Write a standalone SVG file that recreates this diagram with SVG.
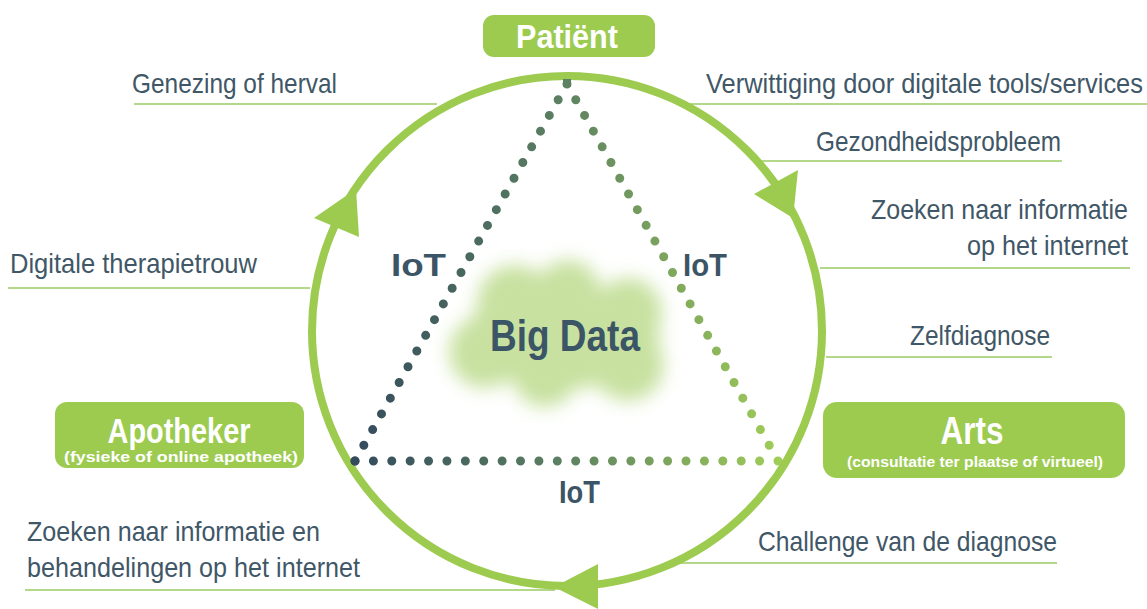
<svg xmlns="http://www.w3.org/2000/svg" width="1147" height="609" viewBox="0 0 1147 609">
<style>
.lbl{font-family:"Liberation Sans",Arial,sans-serif;font-size:28px;fill:#3f5767;}
.end{text-anchor:end;}
.ul{stroke:#b3d88a;stroke-width:2;fill:none;}
.box{fill:#9ccb50;}
.bt{font-family:"Liberation Sans",Arial,sans-serif;font-weight:bold;fill:#ffffff;text-anchor:middle;}
.iot{font-family:"Liberation Sans",Arial,sans-serif;font-weight:bold;font-size:32px;fill:#3c5566;}
.arrow{fill:#9ccb50;}
.dot{fill:none;stroke:url(#tg);stroke-width:9;stroke-linecap:round;stroke-dasharray:0 1;}
</style>
<defs>
<linearGradient id="tg" gradientUnits="userSpaceOnUse" x1="355" y1="0" x2="778" y2="0">
<stop offset="0" stop-color="#344b5c"/>
<stop offset="0.5" stop-color="#5d8262"/>
<stop offset="1" stop-color="#a0cc58"/>
</linearGradient>
<filter id="blur" x="-30%" y="-30%" width="160%" height="160%">
<feGaussianBlur stdDeviation="9"/>
</filter>
</defs>
<rect width="1147" height="609" fill="#ffffff"/>

<g id="underlines">
<line class="ul" x1="134" y1="104" x2="437" y2="104"/>
<line class="ul" x1="690" y1="104" x2="1147" y2="104"/>
<line class="ul" x1="762" y1="161" x2="1062" y2="161"/>
<line class="ul" x1="820" y1="268" x2="1130" y2="268"/>
<line class="ul" x1="826" y1="357" x2="1052" y2="357"/>
<line class="ul" x1="8" y1="288" x2="310" y2="288"/>
<line class="ul" x1="680" y1="563" x2="1057" y2="563"/>
<line class="ul" x1="25" y1="590" x2="555" y2="590"/>
</g>

<g id="cloud" filter="url(#blur)" fill="#c8e1a0">
<ellipse cx="562" cy="337" rx="98" ry="52"/>
<circle cx="515" cy="303" r="38"/>
<circle cx="568" cy="292" r="32"/>
<circle cx="628" cy="312" r="34"/>
<circle cx="485" cy="352" r="36"/>
<circle cx="545" cy="375" r="32"/>
<circle cx="628" cy="365" r="36"/>
</g>

<g id="cycle">
<circle cx="567" cy="331" r="255" fill="none" stroke="#9ccb50" stroke-width="8"/>
<polygon class="arrow" points="314,218 359,237 356,189"/>
<polygon class="arrow" points="754,194 798,170 793,218"/>
<polygon class="arrow" points="598,564 598,609 554,587"/>
</g>

<g id="connectors">
<line class="dot" x1="355" y1="461" x2="567" y2="84" pathLength="24"/>
<line class="dot" x1="567" y1="84" x2="778" y2="461" pathLength="24"/>
<line class="dot" x1="355" y1="461" x2="778" y2="461" pathLength="23"/>
<rect x="563" y="79" width="8" height="8" fill="#5d8262"/>
</g>

<g id="iot-labels">
<text class="iot" x="391" y="276" textLength="55" lengthAdjust="spacingAndGlyphs">IoT</text>
<text class="iot" x="683" y="276" textLength="44" lengthAdjust="spacingAndGlyphs">IoT</text>
<text class="iot" x="559" y="503" textLength="41" lengthAdjust="spacingAndGlyphs">IoT</text>
</g>

<g id="bigdata">
<text x="490" y="351" font-family="Liberation Sans, Arial, sans-serif" font-weight="bold" font-size="45" fill="#3b5566" textLength="150" lengthAdjust="spacingAndGlyphs">Big Data</text>
</g>

<g id="patient">
<rect class="box" x="483" y="15" width="172" height="42" rx="11"/>
<text class="bt" x="567" y="48" font-size="33" textLength="102" lengthAdjust="spacingAndGlyphs">Patiënt</text>
</g>

<g id="apotheker">
<rect class="box" x="55" y="402" width="249" height="66" rx="12"/>
<text class="bt" x="179" y="443" font-size="35" textLength="143" lengthAdjust="spacingAndGlyphs">Apotheker</text>
<text class="bt" x="181" y="462" font-size="15" textLength="234" lengthAdjust="spacingAndGlyphs">(fysieke of online apotheek)</text>
</g>

<g id="arts">
<rect class="box" x="823" y="402" width="302" height="76" rx="14"/>
<text class="bt" x="972" y="444" font-size="39" textLength="63" lengthAdjust="spacingAndGlyphs">Arts</text>
<text class="bt" x="975" y="467" font-size="15" textLength="256" lengthAdjust="spacingAndGlyphs">(consultatie ter plaatse of virtueel)</text>
</g>

<g id="labels">
<text class="lbl" x="132" y="93" textLength="205" lengthAdjust="spacingAndGlyphs">Genezing of herval</text>
<text class="lbl end" x="1143" y="93" textLength="437" lengthAdjust="spacingAndGlyphs">Verwittiging door digitale tools/services</text>
<text class="lbl end" x="1061" y="151" textLength="245" lengthAdjust="spacingAndGlyphs">Gezondheidsprobleem</text>
<text class="lbl end" x="1128" y="219" textLength="257" lengthAdjust="spacingAndGlyphs">Zoeken naar informatie</text>
<text class="lbl end" x="1128" y="255" textLength="161" lengthAdjust="spacingAndGlyphs">op het internet</text>
<text class="lbl end" x="1050" y="345" textLength="140" lengthAdjust="spacingAndGlyphs">Zelfdiagnose</text>
<text class="lbl" x="10" y="273" textLength="247" lengthAdjust="spacingAndGlyphs">Digitale therapietrouw</text>
<text class="lbl end" x="1057" y="551" textLength="299" lengthAdjust="spacingAndGlyphs">Challenge van de diagnose</text>
<text class="lbl" x="27" y="541" textLength="293" lengthAdjust="spacingAndGlyphs">Zoeken naar informatie en</text>
<text class="lbl" x="27" y="577" textLength="333" lengthAdjust="spacingAndGlyphs">behandelingen op het internet</text>
</g>
</svg>
